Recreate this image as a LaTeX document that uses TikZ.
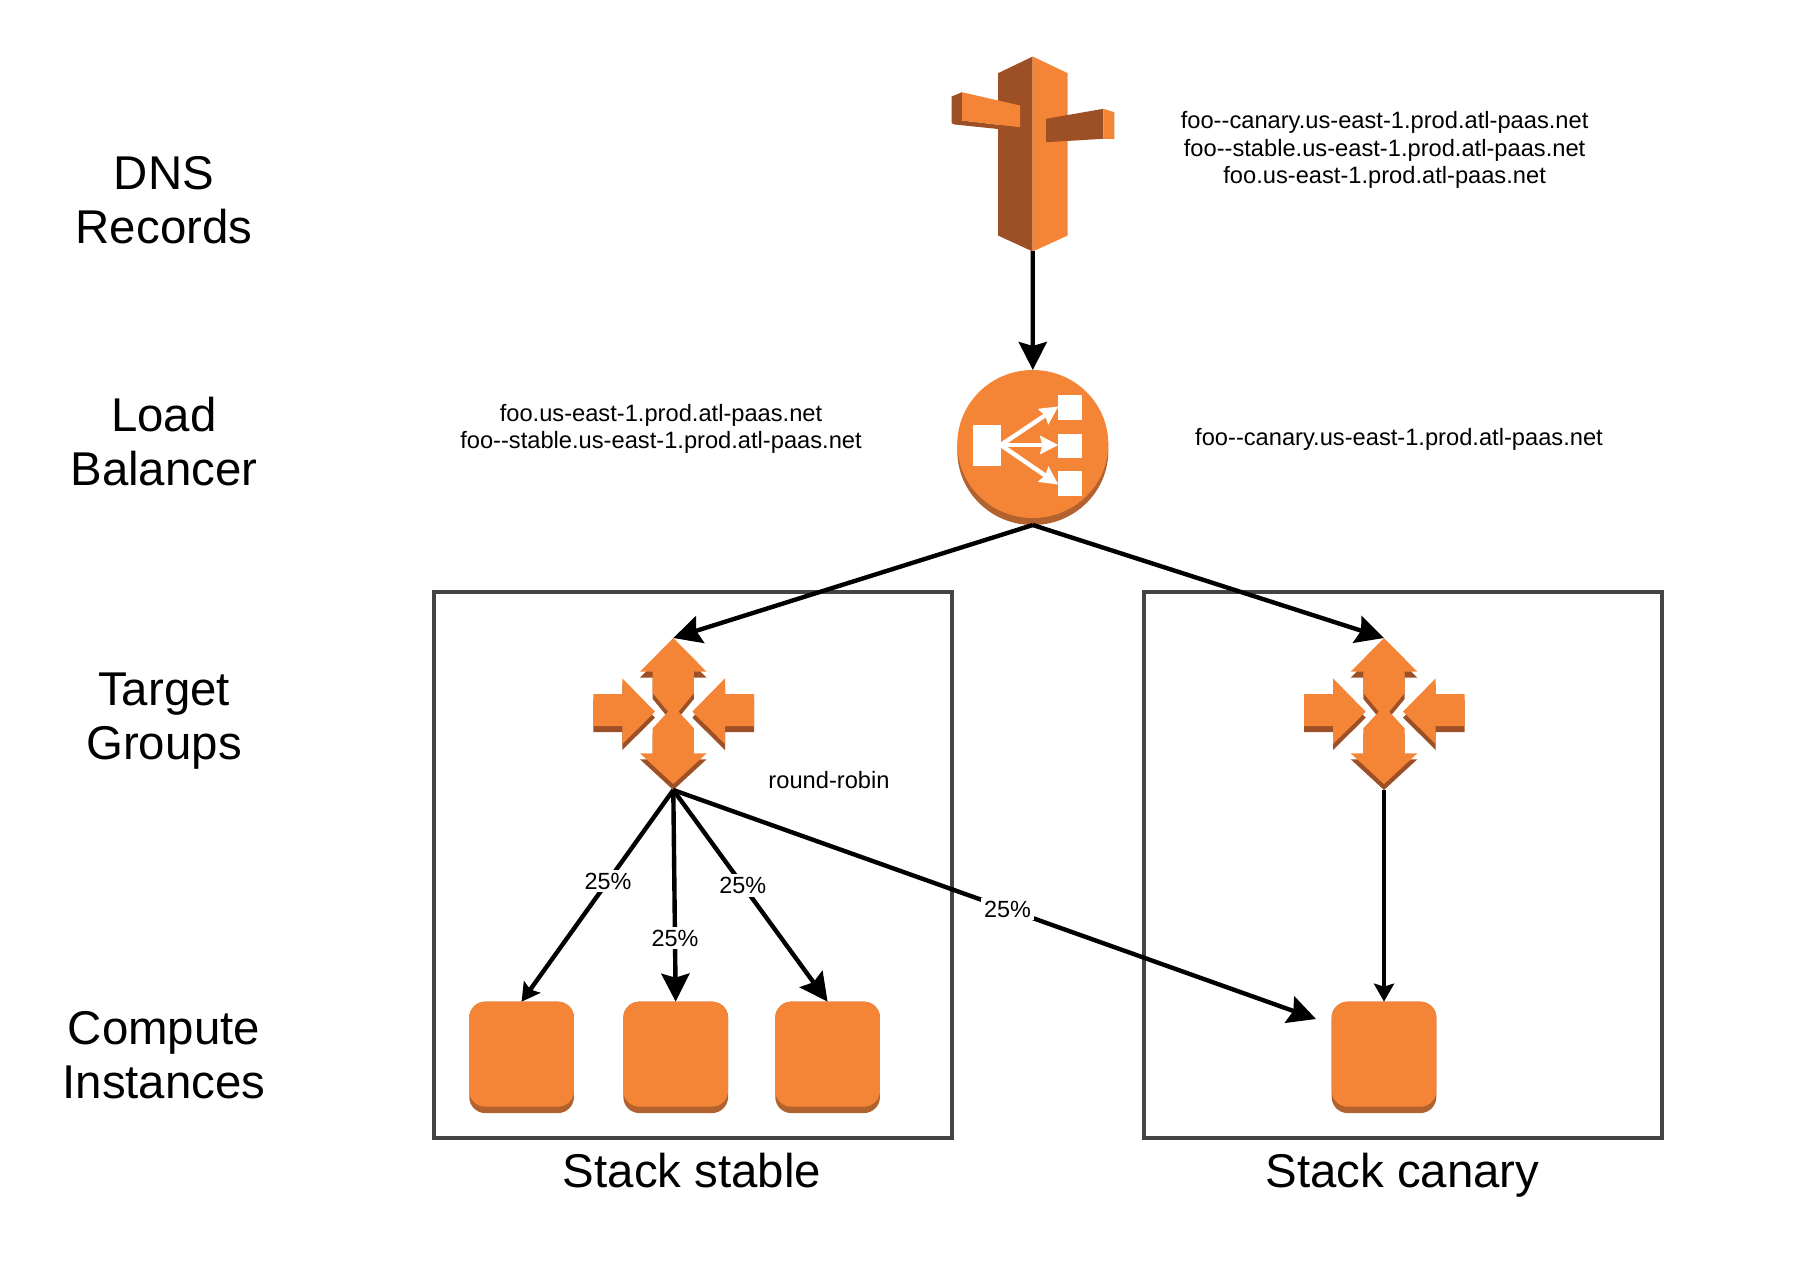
\documentclass[tikz,border=0pt]{standalone}
\usepackage{fontspec}
\setmainfont{Liberation Sans}
\usetikzlibrary{arrows.meta}
\definecolor{awsorange}{HTML}{F58536}
\definecolor{awsdark}{HTML}{9D5025}
\definecolor{awslip}{HTML}{B2622F}
\definecolor{boxline}{HTML}{444444}

\tikzset{
    iconnode/.style={rectangle, inner sep=0pt, outer sep=0pt},
    instance/.style={rectangle, inner sep=0pt, outer sep=0pt, minimum width=52.35pt, minimum height=55.7pt, rounded corners=8pt, fill=awslip},
    stackbox/.style={rectangle, draw=boxline, line width=2pt, inner sep=0pt, minimum width=259pt, minimum height=273pt},
    bigarrow/.style={line width=2.2pt, -{Stealth[length=14pt,width=14pt,inset=2pt]}},
    smallarrow/.style={line width=2.2pt, -{Stealth[length=9pt,width=10pt,inset=1.5pt]}},
    rowlabel/.style={align=center, font=\fontsize{23.7}{27}\selectfont},
    stacklabel/.style={anchor=base, font=\fontsize{23.7}{27}\selectfont},
    hostlabel/.style={align=center, font=\fontsize{11.84}{13.85}\selectfont},
    pctlabel/.style={fill=white, inner sep=1.5pt, font=\fontsize{11.7}{13}\selectfont},
    pics/route53/.style={code={
        \fill[awsdark] (0,-97) -- (-34.7,-80.3) -- (-34.7,82) -- (0,98) -- cycle;
        \fill[awsorange] (0,-97) -- (35,-80.3) -- (35,82) -- (0,98) -- cycle;
        \fill[awsdark] (-81,-57) -- (-70.7,-61.3) -- (-70.7,-33) -- (-12.7,-26.3) -- (-20,-23) -- (-78,-29) -- (-81,-30.3) -- cycle;
        \fill[awsorange] (-70.7,-61.3) -- (-12.7,-48) -- (-12.7,-26.3) -- (-70.7,-33) -- cycle;
        \fill[awsdark] (13.3,-34.7) -- (70.6,-44.7) -- (70.6,-14.7) -- (13.3,-11.3) -- cycle;
        \fill[awsorange] (70.6,-44.7) -- (81.6,-41.3) -- (81.6,-14.7) -- (70.6,-14.7) -- cycle;
    }},
    pics/balancer/.style={code={
        \fill[awslip] (0,3.5) ellipse [x radius=75.5, y radius=74];
        \fill[awsorange] (0,-3.5) ellipse [x radius=75.5, y radius=74];
        \fill[white] (-60,-22.5) rectangle (-32,18);
        \fill[white] (25.5,-53) rectangle (49.5,-28);
        \fill[white] (25.5,-14) rectangle (49.5,10);
        \fill[white] (25.5,23.5) rectangle (49.5,48.5);
        \draw[white, line width=2.2pt, -{Stealth[length=9pt,width=9pt,inset=1pt]}] (-32,-2.5) -- (25.5,-41);
        \draw[white, line width=2.2pt, -{Stealth[length=9pt,width=9pt,inset=1pt]}] (-32,-2.5) -- (25.5,-2.5);
        \draw[white, line width=2.2pt, -{Stealth[length=9pt,width=9pt,inset=1pt]}] (-32,-2.5) -- (25.5,37);
    }},
    pics/targetgroup/.style={code={
        \foreach \d/\c in {6/awsdark,0/awsorange} {
            \fill[\c, shift={(0,\d)}] (0,-76) -- (33.3,-42.3) -- (20.6,-42.3) -- (20.6,-21) -- (0,4) -- (-20.6,-21) -- (-20.6,-42.3) -- (-33.3,-42.3) -- cycle;
            \fill[\c, shift={(0,\d)}] (0,70) -- (33.3,39.3) -- (20.6,39.3) -- (20.6,14.3) -- (0,-8) -- (-20.6,14.3) -- (-20.6,39.3) -- (-33.3,39.3) -- cycle;
            \fill[\c, shift={(0,\d)}] (-80,-20) -- (-51,-20) -- (-51,-35.7) -- (-18.3,-2.3) -- (-51,30) -- (-51,12) -- (-80,12) -- cycle;
            \fill[\c, shift={(0,\d)}] (80.7,-20) -- (51.7,-20) -- (51.7,-35.7) -- (19,-2.3) -- (51.7,30) -- (51.7,12) -- (80.7,12) -- cycle;
        }
    }},
    pics/instancetop/.style={code={
        \fill[awsorange, rounded corners=8pt] (-52.35,-55.7) rectangle (52.35,49.3);
    }},
}

\begin{document}
\begin{tikzpicture}[x=0.5pt, y=-0.5pt]
    \useasboundingbox (0,0) rectangle (1810,1276);

    % stacks
    \node[stackbox] (stackstable) at (693,865) {};
    \node[stackbox] (stackcanary) at (1403,865) {};
    \node[stacklabel] (stablename) at (692,1187) {Stack stable};
    \node[stacklabel] (canaryname) at (1402.5,1187) {Stack canary};

    % icons
    \node[iconnode, minimum width=81.5pt, minimum height=97.5pt] (dns) at (1032.7,153.5) {};
    \node[iconnode, minimum width=75.5pt, minimum height=77.5pt] (lb) at (1032.8,447.5) {};
    \node[iconnode, minimum width=80pt, minimum height=76pt] (tgstable) at (673.3,714) {};
    \node[iconnode, minimum width=80pt, minimum height=76pt] (tgcanary) at (1384,714) {};
    \node[instance] (inst1) at (521.6,1057.35) {};
    \node[instance] (inst2) at (675.7,1057.35) {};
    \node[instance] (inst3) at (827.6,1057.35) {};
    \node[instance] (inst4) at (1384,1057.35) {};
    \coordinate (inst4in) at (1316,1019);

    \pic at (dns) {route53};
    \pic at (lb) {balancer};
    \pic at (tgstable) {targetgroup};
    \pic at (tgcanary) {targetgroup};
    \foreach \n in {inst1,inst2,inst3,inst4}
        \pic at (\n) {instancetop};

    % connectors
    \draw[bigarrow] (dns.south) -- (lb.north);
    \draw[bigarrow] (lb.south) -- (tgstable.north);
    \draw[bigarrow] (lb.south) -- (tgcanary.north);
    \draw[smallarrow] (tgstable.south) -- node[pctlabel, pos=.43] {25\%} (inst1.north);
    \draw[bigarrow] (tgstable.south) -- node[pctlabel, pos=.70] {25\%} (inst2.north);
    \draw[bigarrow] (tgstable.south) -- node[pctlabel, pos=.45] {25\%} (inst3.north);
    \draw[bigarrow] (tgstable.south) -- node[pctlabel, pos=.52] {25\%} (inst4in);
    \draw[smallarrow] (tgcanary.south) -- (inst4.north);

    % row labels
    \node[rowlabel] (rowdns) at (164,200) {DNS\\Records};
    \node[rowlabel] (rowlb) at (164,442) {Load\\Balancer};
    \node[rowlabel] (rowtg) at (164,721) {Target\\Groups};
    \node[rowlabel] (rowci) at (164,1055.5) {Compute\\Instances};

    % host names
    \node[hostlabel] (dnshosts) at (1384.6,150) {foo-{}-canary.us-east-1.prod.atl-paas.net\\foo-{}-stable.us-east-1.prod.atl-paas.net\\foo.us-east-1.prod.atl-paas.net};
    \node[hostlabel] (stablehosts) at (661,429) {foo.us-east-1.prod.atl-paas.net\\foo-{}-stable.us-east-1.prod.atl-paas.net};
    \node[hostlabel] (canaryhosts) at (1399,439.5) {foo-{}-canary.us-east-1.prod.atl-paas.net};
    \node[hostlabel] (roundrobin) at (829,780) {round-robin};
\end{tikzpicture}
\end{document}
